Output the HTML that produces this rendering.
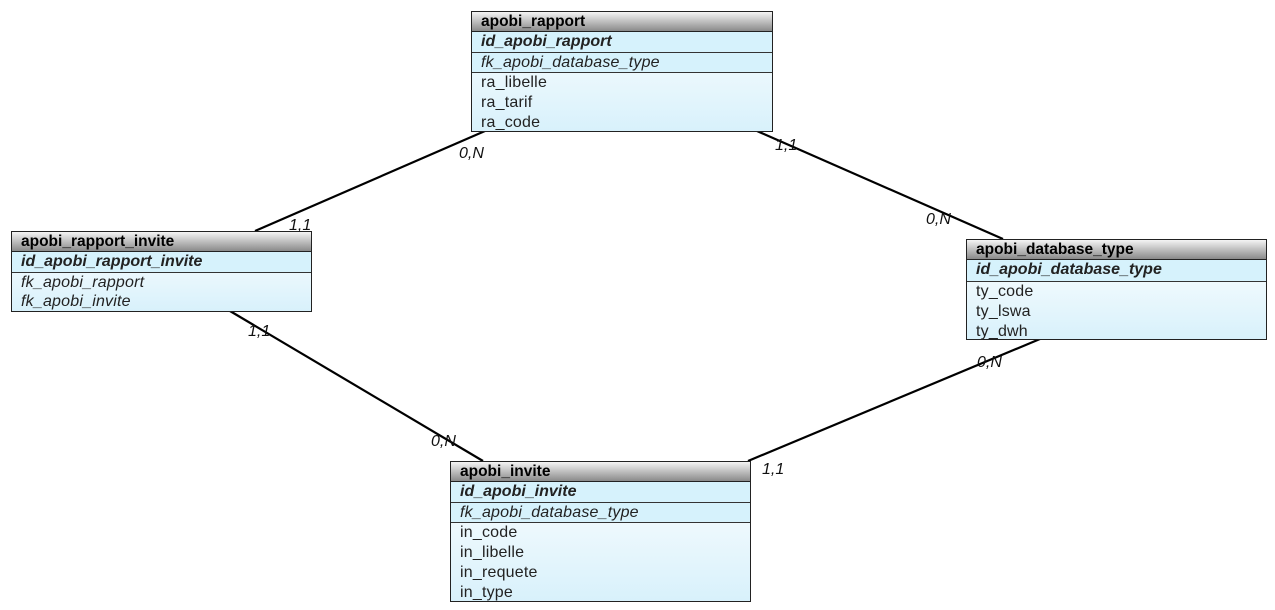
<!DOCTYPE html>
<html><head><style>
body{margin:0;width:1275px;height:610px;background:#fff;position:relative;font-family:"Liberation Sans",sans-serif;overflow:hidden}
.t{position:absolute;border:1px solid #222;box-sizing:border-box;background:linear-gradient(#fff,#d8f1fb)}
.h{height:20px;line-height:19px;padding-left:9px;font-weight:bold;font-size:15.5px;background:linear-gradient(#f4f4f4,#8a8a8a);border-bottom:1px solid #222;box-sizing:border-box}
.r{height:20px;line-height:20px;padding-left:9px;font-size:16px;color:#222;box-sizing:border-box;letter-spacing:0.2px}
.k{background:#d6f2fc;border-bottom:1px solid #333;font-style:italic;height:21px}
.pk{font-weight:bold;letter-spacing:0}
.l{position:absolute;font-style:italic;font-size:16px;color:#111}
svg{position:absolute;left:0;top:0}
</style></head><body>
<svg width="1275" height="610"><g stroke="#000" stroke-width="2.2">
<line x1="255" y1="231" x2="485" y2="131"/>
<line x1="757" y1="131" x2="1003" y2="239"/>
<line x1="230" y1="311" x2="483" y2="461"/>
<line x1="748" y1="461" x2="1040" y2="339"/>
</g></svg>
<div class="t" style="left:471px;top:11px;width:302px;height:121px">
<div class="h">apobi_rapport</div>
<div class="r k pk">id_apobi_rapport</div>
<div class="r k" style="height:20px">fk_apobi_database_type</div>
<div class="r">ra_libelle</div><div class="r">ra_tarif</div><div class="r">ra_code</div></div>
<div class="t" style="left:11px;top:231px;width:301px;height:81px">
<div class="h">apobi_rapport_invite</div>
<div class="r k pk">id_apobi_rapport_invite</div>
<div class="r" style="font-style:italic">fk_apobi_rapport</div><div class="r" style="font-style:italic;height:18px;line-height:18px">fk_apobi_invite</div></div>
<div class="t" style="left:966px;top:239px;width:301px;height:101px">
<div class="h">apobi_database_type</div>
<div class="r k pk" style="height:22px">id_apobi_database_type</div>
<div class="r">ty_code</div><div class="r">ty_lswa</div><div class="r">ty_dwh</div></div>
<div class="t" style="left:450px;top:461px;width:301px;height:141px">
<div class="h">apobi_invite</div>
<div class="r k pk">id_apobi_invite</div>
<div class="r k" style="height:20px">fk_apobi_database_type</div>
<div class="r">in_code</div><div class="r">in_libelle</div><div class="r">in_requete</div><div class="r">in_type</div></div>
<div class="l" style="left:459px;top:145px">0,N</div>
<div class="l" style="left:775px;top:137px">1,1</div>
<div class="l" style="left:926px;top:211px">0,N</div>
<div class="l" style="left:289px;top:217px">1,1</div>
<div class="l" style="left:248px;top:323px">1,1</div>
<div class="l" style="left:431px;top:433px">0,N</div>
<div class="l" style="left:977px;top:354px">0,N</div>
<div class="l" style="left:762px;top:461px">1,1</div>
</body></html>
